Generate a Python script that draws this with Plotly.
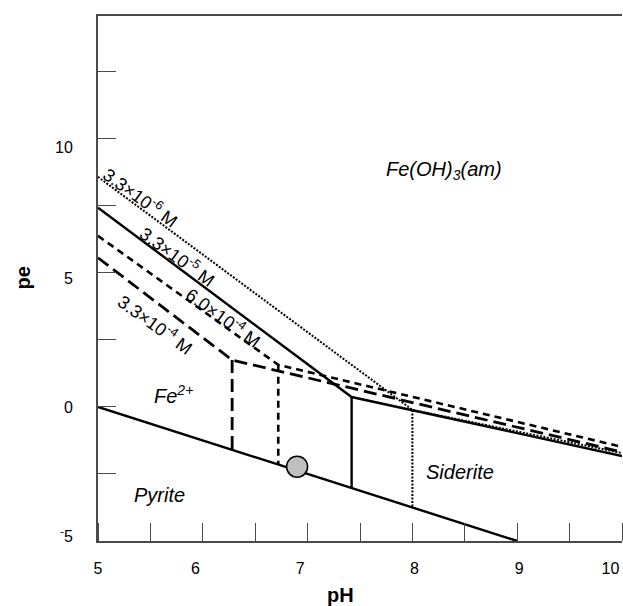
import numpy as np
import plotly.graph_objects as go

# ---------------- data ----------------
conc_labels = ["3.3×10<sup>-6</sup> M", "3.3×10<sup>-5</sup> M",
               "6.0×10<sup>-4</sup> M", "3.3×10<sup>-4</sup> M"]
# Fe(OH)3(am)/Fe2+ boundary from pH 5 to the triple point, then Fe(OH)3/siderite to pH 10
ph_left = [5.0, 5.0, 5.0, 5.0]
pe_left = [8.58, 7.43, 6.38, 5.56]
ph_triple = [8.00, 7.42, 6.72, 6.28]
pe_triple = [-0.11, 0.37, 1.57, 1.75]
ph_right = [10.0, 10.0, 10.0, 10.0]
pe_right = [-1.72, -1.83, -1.49, -1.68]

# Pyrite / Fe2+ (siderite) boundary
pyrite_ph = [5.0, 9.0]
pyrite_pe = [0.0, -5.0]

# sample point
sample_ph = [6.90]
sample_pe = [-2.23]

field_names = ["Fe(OH)<sub>3</sub>(am)", "Fe<sup>2+</sup>", "Siderite", "Pyrite"]
x_tick_text = ["5", "6", "7", "8", "9", "10"]
y_tick_text = ["10", "5", "0", "<sup>-</sup>5"]

# ---------------- layout positions / styles ----------------
field_pos = [(8.30, 8.82), (5.72, 0.45), (8.45, -2.41), (5.59, -3.27)]
conc_pos = [(5.41, 7.80), (5.76, 5.60), (6.20, 3.33), (5.55, 3.07)]
x_tick_pos = [5.0, 5.93, 6.93, 8.02, 9.02, 9.89]
y_tick_pos = [9.67, 4.78, 0.0, -4.83]
line_styles = [dict(dash="2px,1.5px", width=2.0),
               dict(dash="solid", width=2.4),
               dict(dash="7px,5px", width=2.6),
               dict(dash="13px,6px", width=2.8)]

FONT = "Liberation Sans, Arial, sans-serif"
AX = "#4a4a4a"

fig = go.Figure()

# pyrite line
fig.add_trace(go.Scatter(x=pyrite_ph, y=pyrite_pe, mode="lines",
                         line=dict(color="black", width=2.4), hoverinfo="skip"))

for i in range(4):
    bottom = float(np.interp(ph_triple[i], pyrite_ph, pyrite_pe))
    xs = [ph_left[i], ph_triple[i], ph_right[i], None, ph_triple[i], ph_triple[i]]
    ys = [pe_left[i], pe_triple[i], pe_right[i], None, pe_triple[i], bottom]
    fig.add_trace(go.Scatter(x=xs, y=ys, mode="lines",
                             line=dict(color="black", **line_styles[i]),
                             hoverinfo="skip"))

fig.add_trace(go.Scatter(x=sample_ph, y=sample_pe, mode="markers",
                         marker=dict(size=21, color="#c0c0c0",
                                     line=dict(color="black", width=1.5)),
                         hoverinfo="skip"))

annotations = []
for name, (px, py) in zip(field_names, field_pos):
    annotations.append(dict(x=px, y=py, xref="x", yref="y", text="<i>" + name + "</i>",
                            xanchor="center", yanchor="middle",
                            showarrow=False, font=dict(family=FONT, size=20, color="black")))
for lab, (px, py) in zip(conc_labels, conc_pos):
    annotations.append(dict(x=px, y=py, xref="x", yref="y", text=lab, textangle=36,
                            xanchor="center", yanchor="middle",
                            showarrow=False, font=dict(family=FONT, size=18, color="black")))

annotations.append(dict(x=-0.145, y=0.5, xref="paper", yref="paper", text="<b>pe</b>",
                        textangle=-90, showarrow=False, xanchor="center", yanchor="middle",
                        font=dict(family=FONT, size=20, color="black")))
annotations.append(dict(x=0.462, y=-0.102, xref="paper", yref="paper", text="<b>pH</b>",
                        showarrow=False, xanchor="center", yanchor="middle",
                        font=dict(family=FONT, size=20, color="black")))

fig.update_layout(
    width=623, height=606,
    margin=dict(l=98, r=1, t=16, b=65),
    plot_bgcolor="white", paper_bgcolor="white",
    showlegend=False,
    annotations=annotations,
    xaxis=dict(range=[5, 10], showline=True, linecolor=AX, linewidth=2, mirror=True,
               showgrid=False, zeroline=False, fixedrange=True,
               tickmode="array", tickvals=x_tick_pos, ticktext=x_tick_text, ticks="",
               ticklabelstandoff=12,
               tickfont=dict(family=FONT, size=16, color="black"),
               minor=dict(tickmode="linear", tick0=5, dtick=0.5, ticks="inside",
                          ticklen=18, tickwidth=1, tickcolor=AX, showgrid=False)),
    yaxis=dict(range=[-5, 14.58], showline=True, linecolor=AX, linewidth=2,
               showgrid=False, zeroline=False, fixedrange=True,
               tickmode="array", tickvals=y_tick_pos, ticktext=y_tick_text, ticks="",
               ticklabelstandoff=20,
               tickfont=dict(family=FONT, size=16, color="black"),
               minor=dict(tickmode="linear", tick0=-5, dtick=2.5, ticks="inside",
                          ticklen=18, tickwidth=1, tickcolor=AX, showgrid=False)),
)

fig.write_html("out.html")
